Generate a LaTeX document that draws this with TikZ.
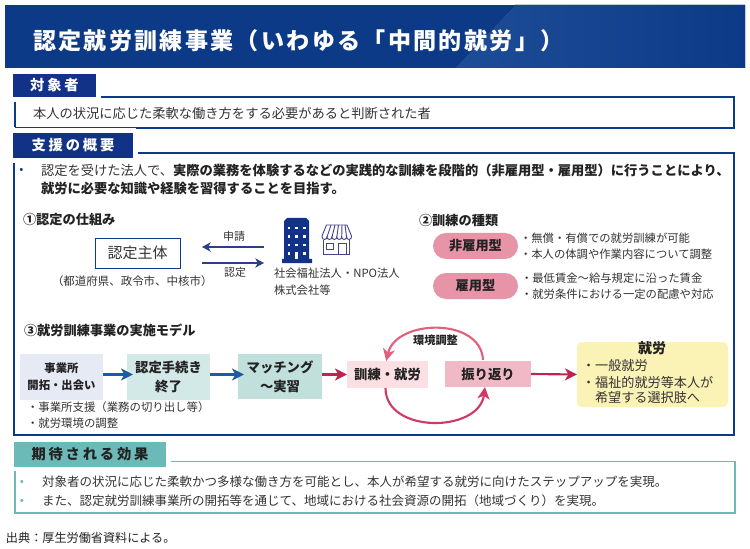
\documentclass[tikz,border=0pt]{standalone}
\usepackage{fontspec}
\setmainfont{Noto Sans CJK JP}
\newfontfamily\jpsp[LetterSpace=20]{Noto Sans CJK JP}
\newfontfamily\jptitle[LetterSpace=10]{Noto Sans CJK JP}
\definecolor{navy}{HTML}{0D3A86}
\definecolor{navyb}{HTML}{123288}
\definecolor{navyl}{HTML}{1E4D98}
\definecolor{ink}{HTML}{333333}
\definecolor{inkb}{HTML}{222222}
\definecolor{teal1}{HTML}{6CBAB8}
\definecolor{arrnavy}{HTML}{2B3F8B}
\definecolor{arrblue}{HTML}{1D5BA8}
\definecolor{crim}{HTML}{C0234F}
\definecolor{pinkc}{HTML}{E0607E}
\definecolor{pinkd}{HTML}{D23A66}
\definecolor{pill}{HTML}{E793A8}
\definecolor{shopc}{HTML}{45458F}
\usetikzlibrary{arrows.meta}
\newcommand{\fsz}[2]{\fontsize{#1}{#2}\selectfont}
\tikzset{
  every node/.style={inner sep=0pt,outer sep=0pt},
  lbl/.style={anchor=west,text=ink,font=\fsz{8.3}{12}},
  body/.style={anchor=west,text=ink,font=\fsz{9.95}{12}},
  sub/.style={anchor=west,text=inkb,font=\fsz{9.9}{12}\bfseries},
  hdr/.style={fill=navyb,text=white,font=\jpsp\fsz{10.7}{12}\bfseries},
  bx/.style={minimum width=#1*0.75pt,align=center},
  bh/.style={minimum height=#1*0.75pt},
  flow/.style={text=inkb,font=\fsz{10}{14}\bfseries,align=center},
  arrb/.style={draw=arrblue,line width=1.6pt,-{Stealth[length=9pt,width=9pt,inset=2.5pt]},shorten >=-4.5pt},
  arrc/.style={draw=crim,line width=1.6pt,-{Stealth[length=9pt,width=9pt,inset=2.5pt]}},
  arrn/.style={draw=arrnavy,line width=1pt,-{Stealth[length=6.5pt,width=7pt,inset=1.8pt]}},
  loop1/.style={line width=1.6pt,-{Stealth[length=9pt,width=9pt,inset=2.5pt]}},
}
\begin{document}
\begin{tikzpicture}[x=0.75pt,y=-0.75pt]
\useasboundingbox (0,0) rectangle (750,549);
% title band
\fill[navy] (5,5) rectangle (745,68);
\fill[left color=navyl,right color=navy] (515,5) -- (745,5) -- (745,68) -- (455,68) -- cycle;
\node[anchor=west,text=white,font=\jptitle\fsz{17.3}{20}\bfseries] (title) at (33,41) {認定就労訓練事業（いわゆる「中間的就労」）};
% target
\node[hdr,bx=83,bh=23] (h1) at (54.5,85.5) {対象者};
\draw[navy,line width=1.5pt] (101,97.5) -- (733.5,97.5) -- (733.5,128) -- (136,128);
\draw[navy,line width=1.5pt] (15,102) -- (15,127.5);
\draw[navy,line width=.75pt] (15,127.5) -- (136,127.5);
\node[body] (t1) at (33,113) {本人の状況に応じた柔軟な働き方をする必要があると判断された者};
% support
\node[hdr,bx=120,bh=25] (h2) at (73,145.5) {支援の概要};
\draw[navy,line width=1.5pt] (138,153) -- (733.5,153) -- (733.5,435) -- (14,435) -- (14,163);
\node[text=navy,font=\fsz{9}{10}] (b1) at (21.5,170.5) {•};
\node[anchor=west,text=ink,font=\fsz{9.95}{12}] (t2) at (41,170) {認定を受けた法人で、\textcolor{inkb}{\bfseries 実際の業務を体験するなどの実践的な訓練を段階的（非雇用型・雇用型）に行うことにより、}};
\node[anchor=west,text=inkb,font=\fsz{9.95}{12}\bfseries] (t3) at (41,188) {就労に必要な知識や経験を習得することを目指す。};
% section 1
\node[sub] (s1) at (23,219.5) {①認定の仕組み};
\node[draw=navy,line width=.7pt,bx=85,bh=30,text=ink,font=\fsz{11.25}{13}] (auth) at (137.5,253) {認定主体};
\node[lbl,font=\fsz{8.6}{12}] (auth2) at (52,281) {（都道府県、政令市、中核市）};
\coordinate (orgA) at (264,247);
\coordinate (orgB) at (264,263);
\coordinate (authA) at (202,247);
\coordinate (authB) at (202,263);
\draw[arrn] (orgA) -- (authA);
\draw[arrn] (authB) -- (orgB);
\node[text=ink,font=\fsz{8.2}{12}] (l1) at (234,236) {申請};
\node[text=ink,font=\fsz{8.2}{12}] (l2) at (235,272.5) {認定};
% building
\fill[navyb] (284,221) -- (287,218) -- (306,218) -- (309,221) -- (309,259) -- (312,259) -- (312,263) -- (282,263) -- (282,259) -- (284,259) -- cycle;
\foreach \yy in {228,236.5,245}{\foreach \xx in {289,296.7,304.3}{\fill[white] (\xx-1.4,\yy-1.4) rectangle (\xx+1.4,\yy+1.4);}}
\fill[white] (287.6,252) rectangle (290.4,255);
\fill[white] (303,252) rectangle (305.8,255);
\fill[white] (295.4,252.5) rectangle (298.2,259);
% shop
\begin{scope}[draw=shopc,line width=.7pt]
\draw (323.5,240) -- (323.5,254.5) -- (349.5,254.5) -- (349.5,240);
\draw (326.5,243) rectangle (333,249.5);
\draw (338,254.5) -- (338,243) -- (346,243) -- (346,254.5);
\draw (326.5,225) -- (347,225) -- (351.5,236) -- (351.5,237) arc (0:180:2.45) arc (0:180:2.45) arc (0:180:2.45) arc (0:180:2.45) arc (0:180:2.45) arc (0:180:2.45) -- (322,236) -- cycle;
\draw (331,225) -- (327,237) (335,225) -- (332,237) (338.5,225) -- (336.8,237) (342,225) -- (341.7,237) (345,225) -- (346.6,237);
\end{scope}
\node[lbl,font=\fsz{8.5}{12}] (o1) at (274,273.5) {社会福祉法人・NPO法人};
\node[lbl,font=\fsz{8.5}{12}] (o2) at (274,290) {株式会社等};
% section 2
\node[sub] (s2) at (419,220) {②訓練の種類};
\node[fill=pill,rounded corners=13*0.75pt,bx=85,bh=26,text=inkb,font=\fsz{9.9}{12}\bfseries] (p1) at (475.5,246) {非雇用型};
\node[fill=pill,rounded corners=13*0.75pt,bx=85,bh=26,text=inkb,font=\fsz{9.9}{12}\bfseries] (p2) at (475.5,286) {雇用型};
\node[lbl,font=\fsz{8.5}{12}] (d1) at (520,238) {・無償・有償での就労訓練が可能};
\node[lbl,font=\fsz{8.5}{12}] (d2) at (520,254) {・本人の体調や作業内容について調整};
\node[lbl,font=\fsz{8.5}{12}] (d3) at (521,278) {・最低賃金～給与規定に沿った賃金};
\node[lbl,font=\fsz{8.5}{12}] (d4) at (521,294) {・就労条件における一定の配慮や対応};
% section 3
\node[sub] (s3) at (24,330) {③就労訓練事業の実施モデル};
\node[flow,fill={rgb,255:red,230;green,234;blue,245},bx=83,bh=46,font=\fsz{8.5}{12.75}\bfseries] (f1) at (61.5,377) {事業所\\開拓・出会い};
\node[flow,fill={rgb,255:red,211;green,233;blue,231},bx=83,bh=46] (f2) at (168.5,377) {認定手続き\\終了};
\node[flow,fill={rgb,255:red,193;green,224;blue,219},bx=84,bh=45] (f3) at (280,376.5) {マッチング\\～実習};
\node[flow,fill={rgb,255:red,251;green,223;blue,226},bx=81,bh=27] (f4) at (387.5,374.5) {訓練・就労};
\node[flow,fill={rgb,255:red,241;green,184;blue,198},bx=86,bh=26] (f5) at (488,374) {振り返り};
\node[fill={rgb,255:red,251;green,242;blue,181},rounded corners=3.75pt,bx=151,bh=65] (f6) at (652.5,374.5) {};
\draw[arrb] (f1.east|-0,374.5) -- (f2.west|-0,374.5);
\draw[arrb] (f2.east|-0,374.5) -- (f3.west|-0,374.5);
\draw[arrc] (f3.east|-0,374.5) -- (f4.west|-0,374.5);
\draw[arrc] (f5.east) -- (f6.west);
\draw[loop1,pinkc] ([xshift=-3.75pt,yshift=.75pt]f5.north) .. controls +(-2,-43) and +(10,-42) .. ([xshift=-1pt]f4.north);
\draw[loop1,pinkd] ([xshift=-1.5pt]f4.south) .. controls +(0,46) and +(-6,46) .. ([xshift=-2.25pt]f5.south);
\node[text=inkb,font=\fsz{8.4}{12}\bfseries] (l3) at (435.5,340) {環境調整};
\node[text=inkb,font=\fsz{10.5}{12}\bfseries] (g0) at (652,348) {就労};
\node[lbl,font=\fsz{9.85}{12}] (g1) at (582,366) {・一般就労};
\node[lbl,font=\fsz{9.85}{12}] (g2) at (582,382) {・福祉的就労等本人が};
\node[lbl,font=\fsz{9.85}{12}] (g3) at (595,398) {希望する選択肢へ};
\node[lbl,font=\fsz{8.55}{12}] (n1) at (27,407) {・事業所支援（業務の切り出し等）};
\node[lbl,font=\fsz{8.55}{12}] (n2) at (27,423) {・就労環境の調整};
% effects
\node[fill=teal1,text=inkb,font=\jpsp\fsz{10.7}{12}\bfseries,bx=152,bh=25] (h3) at (90,454.5) {期待される効果};
\draw[teal1,line width=1.4pt] (171,461.5) -- (735,461.5) -- (735,513) -- (15,513) -- (15,471);
\node[text=teal1,font=\fsz{9}{10}] (b2) at (22,482.5) {•};
\node[text=teal1,font=\fsz{9}{10}] (b3) at (22,501.5) {•};
\node[anchor=west,text=ink,font=\fsz{9.38}{12}] (e1) at (42,482) {対象者の状況に応じた柔軟かつ多様な働き方を可能とし、本人が希望する就労に向けたステップアップを実現。};
\node[anchor=west,text=ink,font=\fsz{9.38}{12}] (e2) at (42,501) {また、認定就労訓練事業所の開拓等を通じて、地域における社会資源の開拓（地域づくり）を実現。};
\node[anchor=west,text=inkb,font=\fsz{9.1}{12}] (src) at (6,538) {出典：厚生労働省資料による。};
\end{tikzpicture}
\end{document}
